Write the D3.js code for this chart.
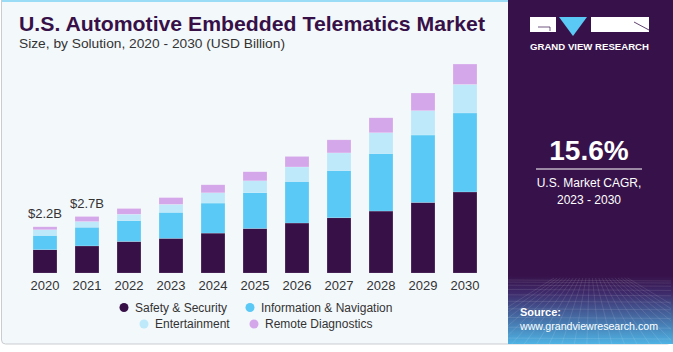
<!DOCTYPE html>
<html>
<head>
<meta charset="utf-8">
<script src="https://cdn.jsdelivr.net/npm/d3@7"></script>
<style>
  body { margin: 0; background: #ffffff; }
  svg { display: block; font-family: "Liberation Sans", Arial, sans-serif; }
</style>
</head>
<body>
<div id="viz"></div>
<script>
const width = 673;
const height = 352;
const margin = {top: 63, bottom: 273, left: 24, right: 486};

// Data (USD Billion)
const years = ['2020', '2021', '2022', '2023', '2024', '2025', '2026', '2027', '2028', '2029', '2030'];
const safety = [1.11, 1.29, 1.50, 1.65, 1.90, 2.12, 2.38, 2.63, 2.95, 3.36, 3.86];
const information = [0.68, 0.89, 1.00, 1.24, 1.43, 1.71, 1.98, 2.25, 2.74, 3.21, 3.76];
const entertainment = [0.27, 0.27, 0.30, 0.38, 0.49, 0.56, 0.69, 0.84, 0.99, 1.16, 1.36];
const remote = [0.14, 0.24, 0.27, 0.32, 0.38, 0.43, 0.50, 0.62, 0.71, 0.84, 0.97];
const seriesNames = ['Safety & Security', 'Information & Navigation', 'Entertainment', 'Remote Diagnostics'];
const valueLabels = [{year: '2020', text: '$2.2B'}, {year: '2021', text: '$2.7B'}];

const colors = ['#371048', '#5bc9f5', '#bde9fa', '#d4a6ea'];
const panelColor = '#37124a';
const bgColor = '#f3f8fb';

const table = years.map((y, i) => ({
  year: y,
  safety: safety[i],
  information: information[i],
  entertainment: entertainment[i],
  remote: remote[i]
}));
const keys = ['safety', 'information', 'entertainment', 'remote'];
const stacked = d3.stack().keys(keys)(table);

const svg = d3.select('#viz')
  .append('svg')
    .attr('width', width)
    .attr('height', height)
    .attr('viewBox', [0, 0, width, height]);

const defs = svg.append('defs');
const grad = defs.append('linearGradient')
    .attr('id', 'panelGrad')
    .attr('x1', 0).attr('y1', 0).attr('x2', 0).attr('y2', 1);
grad.append('stop').attr('offset', '0%').attr('stop-color', panelColor);
grad.append('stop').attr('offset', '25%').attr('stop-color', '#3e2a6a');
grad.append('stop').attr('offset', '100%').attr('stop-color', '#4eb3e3');
const clip = defs.append('clipPath').attr('id', 'meshClip');
clip.append('rect').attr('x', 508).attr('y', 276).attr('width', 163).attr('height', 68);

// card background
svg.append('rect')
    .attr('x', 1.5).attr('y', -4)
    .attr('width', 670).attr('height', 348)
    .attr('rx', 4)
    .attr('fill', bgColor)
    .attr('stroke', '#c9cdd1');
svg.append('rect')
    .attr('x', 2).attr('y', 0)
    .attr('width', 506).attr('height', 2)
    .attr('fill', '#9adcf5');

// right panel
svg.append('rect')
    .attr('x', 508).attr('y', 0)
    .attr('width', 165).attr('height', 344)
    .attr('fill', panelColor);
svg.append('rect')
    .attr('x', 508).attr('y', 276)
    .attr('width', 165).attr('height', 68)
    .attr('fill', 'url(#panelGrad)')
    .attr('transform', 'translate(0,0)');
// re-map gradient onto bottom part only
grad.attr('gradientUnits', 'userSpaceOnUse').attr('x1', 0).attr('y1', 276).attr('x2', 0).attr('y2', 344);

// faint mesh in the bottom of the panel
const mesh = svg.append('g').attr('clip-path', 'url(#meshClip)')
    .attr('stroke', '#ffffff').attr('stroke-opacity', 0.18).attr('stroke-width', 0.6).attr('fill', 'none');
d3.range(0, 24).forEach(i => {
  const x = 500 + i * 8;
  mesh.append('line').attr('x1', 590 + (x - 590) * 0.4).attr('y1', 278).attr('x2', 590 + (x - 590) * 1.6).attr('y2', 346);
});
d3.range(0, 12).forEach(i => {
  const yy = 280 + i * i * 0.55 + i * 1.5;
  mesh.append('line').attr('x1', 508).attr('y1', yy).attr('x2', 673).attr('y2', yy + 1);
});

// logo
const logo = svg.append('g');
logo.append('rect').attr('x', 530).attr('y', 17).attr('width', 26).attr('height', 15).attr('fill', '#ffffff');
logo.append('path').attr('d', 'M538,27 H550 V31').attr('stroke', panelColor).attr('stroke-width', 0.7).attr('fill', 'none');
logo.append('path').attr('d', 'M559,17 L587,17 L573,36 Z').attr('fill', '#5bc9f5');
logo.append('rect').attr('x', 591).attr('y', 17).attr('width', 58).attr('height', 15).attr('fill', '#ffffff');
logo.append('path').attr('d', 'M634,22 L649,30').attr('stroke', panelColor).attr('stroke-width', 0.8);
logo.append('text')
    .attr('x', 589.5).attr('y', 50)
    .attr('text-anchor', 'middle')
    .attr('fill', '#ffffff')
    .attr('font-size', 8.6)
    .attr('font-weight', 'bold')
    .attr('textLength', 119)
    .attr('lengthAdjust', 'spacingAndGlyphs')
    .text('GRAND VIEW RESEARCH');

// CAGR
svg.append('text')
    .attr('x', 589).attr('y', 160)
    .attr('text-anchor', 'middle')
    .attr('fill', '#ffffff')
    .attr('font-size', 28)
    .attr('font-weight', 'bold')
    .text('15.6%');
svg.append('line')
    .attr('x1', 536).attr('x2', 642)
    .attr('y1', 169).attr('y2', 169)
    .attr('stroke', '#ffffff').attr('stroke-width', 1);
svg.append('text')
    .attr('x', 589).attr('y', 187)
    .attr('text-anchor', 'middle')
    .attr('fill', '#ffffff')
    .attr('font-size', 12)
    .text('U.S. Market CAGR,');
svg.append('text')
    .attr('x', 589).attr('y', 204)
    .attr('text-anchor', 'middle')
    .attr('fill', '#ffffff')
    .attr('font-size', 12)
    .text('2023 - 2030');

// source
svg.append('text')
    .attr('x', 520).attr('y', 316)
    .attr('fill', '#ffffff')
    .attr('font-size', 11)
    .attr('font-weight', 'bold')
    .text('Source:');
svg.append('text')
    .attr('x', 520).attr('y', 330)
    .attr('fill', '#ffffff')
    .attr('font-size', 11)
    .attr('textLength', 138)
    .attr('lengthAdjust', 'spacingAndGlyphs')
    .text('www.grandviewresearch.com');

// title
svg.append('text')
    .attr('x', 19).attr('y', 30.5)
    .attr('fill', '#371048')
    .attr('font-size', 21)
    .attr('font-weight', 'bold')
    .attr('textLength', 466)
    .attr('lengthAdjust', 'spacingAndGlyphs')
    .text('U.S. Automotive Embedded Telematics Market');
svg.append('text')
    .attr('x', 19).attr('y', 47.5)
    .attr('fill', '#333333')
    .attr('font-size', 13)
    .attr('textLength', 266)
    .attr('lengthAdjust', 'spacingAndGlyphs')
    .text('Size, by Solution, 2020 - 2030 (USD Billion)');

// scales
const xScale = d3.scaleBand()
    .domain(years)
    .range([margin.left, margin.right])
    .paddingInner(0.43)
    .paddingOuter(0.215);
const yScale = d3.scaleLinear()
    .domain([0, 10])
    .range([margin.bottom, margin.top]);

// bars
svg.append('g')
    .attr('class', 'bars')
  .selectAll('g')
  .data(stacked)
  .join('g')
    .attr('fill', (d, i) => colors[i])
  .selectAll('rect')
  .data(d => d)
  .join('rect')
    .attr('x', d => xScale(d.data.year))
    .attr('y', d => yScale(d[1]))
    .attr('width', xScale.bandwidth())
    .attr('height', d => yScale(d[0]) - yScale(d[1]))
    .attr('stroke', '#ffffff')
    .attr('stroke-opacity', 0.25)
    .attr('stroke-width', 0.6);

// x axis (labels only)
const xAxis = svg.append('g')
    .attr('transform', `translate(0, ${margin.bottom})`)
    .call(d3.axisBottom(xScale).tickSize(0).tickPadding(8));
xAxis.select('.domain').remove();
xAxis.selectAll('text')
    .attr('font-size', 13)
    .attr('font-family', '"Liberation Sans", Arial, sans-serif')
    .attr('fill', '#333333');

// value labels
const totals = new Map(table.map(d => [d.year, d.safety + d.information + d.entertainment + d.remote]));
svg.selectAll('.value-label')
  .data(valueLabels)
  .join('text')
    .attr('class', 'value-label')
    .attr('x', d => xScale(d.year) + xScale.bandwidth() / 2)
    .attr('y', d => yScale(totals.get(d.year)) - 9)
    .attr('text-anchor', 'middle')
    .attr('fill', '#333333')
    .attr('font-size', 13)
    .text(d => d.text);

// legend
const legendPos = [
  {x: 124, y: 307.5},
  {x: 250, y: 307.5},
  {x: 144, y: 324},
  {x: 254, y: 324}
];
const legend = svg.append('g').attr('class', 'legend')
  .selectAll('g')
  .data(seriesNames)
  .join('g')
    .attr('transform', (d, i) => `translate(${legendPos[i].x}, ${legendPos[i].y})`);
legend.append('circle')
    .attr('r', 4.5)
    .attr('fill', (d, i) => colors[i]);
legend.append('text')
    .attr('x', 11)
    .attr('y', 4)
    .attr('fill', '#333333')
    .attr('font-size', 12)
    .text(d => d);
</script>
</body>
</html>
